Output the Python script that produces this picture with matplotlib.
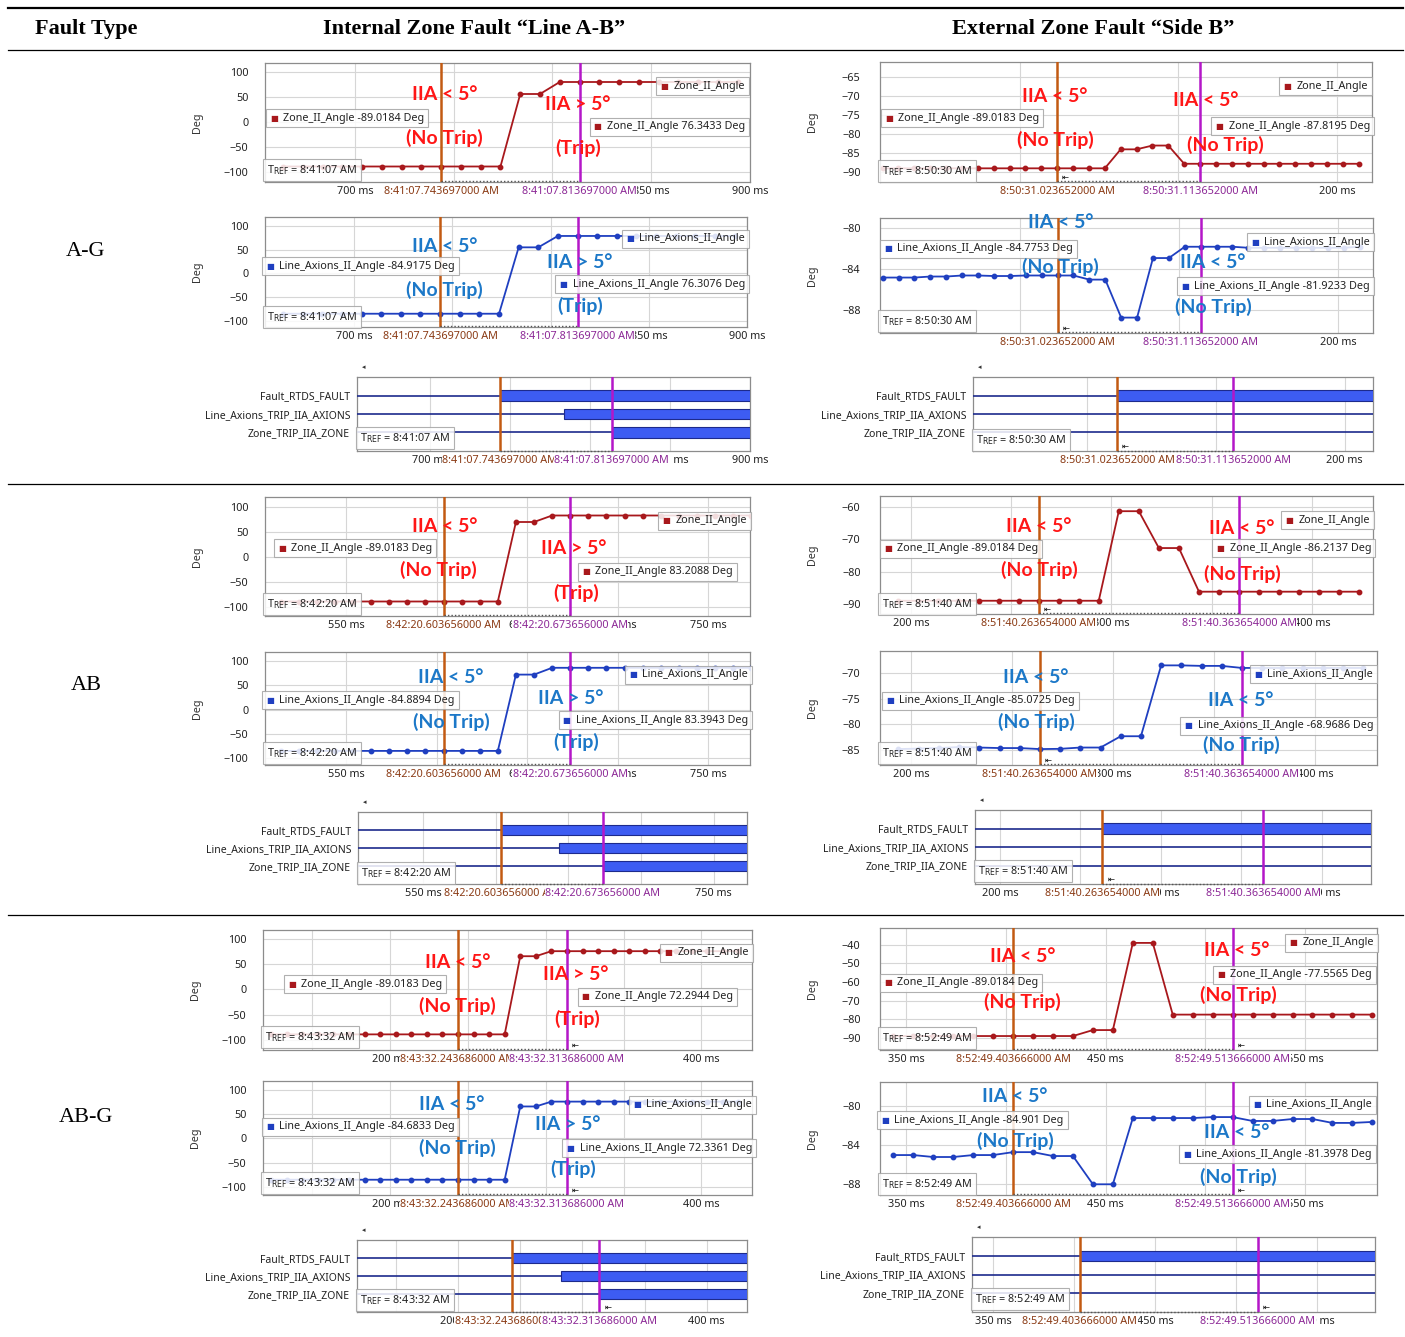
import numpy as np
import matplotlib
matplotlib.use("Agg")
import matplotlib.pyplot as plt
from matplotlib.lines import Line2D
from matplotlib.offsetbox import AnnotationBbox, HPacker, TextArea
from matplotlib.ticker import FuncFormatter, MultipleLocator

W, H = 1405, 1337
SANS = ["Noto Sans", "DejaVu Sans"]
SERIF = ["Liberation Serif", "DejaVu Serif"]
BOLD_SANS = ["Lato", "DejaVu Sans"]
plt.rcParams["font.family"] = SANS

# ---------------- data ----------------
FAULT_TYPES = ["A-G", "AB", "AB-G"]
SIGNALS = ["Fault_RTDS_FAULT", "Line_Axions_TRIP_IIA_AXIONS", "Zone_TRIP_IIA_ZONE"]
SAMPLE_MS = 10

# internal zone fault "Line A-B", A-G
AG_INT_START = 663.697
AG_INT_ZONE = [-89, -89, -89, -89, -89, -89, -89, -89, -89, -89, -89, -89,
               56, 56, 80, 80, 80, 80, 80, 80, 80, 80, 80, 80]
AG_INT_AXIONS = [-85, -85, -85, -85, -85, -85, -85, -85, -85, -85, -85, -85,
                 55, 55, 79, 79, 79, 79, 79, 79, 79, 79, 79, 79]
AG_INT_CURSORS = [743.697, 813.697]
AG_INT_EDGES = [743.697, 783.5, 813.697]
AG_INT_READ_ZONE = ["-89.0184", "76.3433"]
AG_INT_READ_AXIONS = ["-84.9175", "76.3076"]
AG_INT_CLOCK = "8:41:07"
AG_INT_TREF = "8:41:07 AM"

# external zone fault "Side B", A-G
AG_EXT_START = -86.348
AG_EXT_ZONE = [-89.0, -89.0, -89.0, -89.0, -89.0, -89.0, -89.0, -89.0, -89.0, -89.0,
               -89.0, -89.0, -89.0, -89.0, -89.0, -84.0, -84.0, -83.0, -83.0, -87.8,
               -87.8, -87.8, -87.8, -87.8, -87.8, -87.8, -87.8, -87.8, -87.8, -87.8, -87.8]
AG_EXT_AXIONS = [-84.8, -84.8, -84.8, -84.7, -84.7, -84.6, -84.6, -84.65, -84.65, -84.6,
                 -84.6, -84.6, -84.6, -85.0, -85.0, -88.7, -88.7, -82.9, -82.9, -81.8,
                 -81.8, -81.8, -81.8, -81.9, -81.9, -81.9, -81.9, -81.9, -81.9, -81.9, -81.8]
AG_EXT_CURSORS = [23.652, 113.652]
AG_EXT_EDGES = [23.652, None, None]
AG_EXT_READ_ZONE = ["-89.0183", "-87.8195"]
AG_EXT_READ_AXIONS = ["-84.7753", "-81.9233"]
AG_EXT_CLOCK = "8:50:31"
AG_EXT_TREF = "8:50:30 AM"

# internal, AB
AB_INT_START = 513.656
AB_INT_ZONE = [-89, -89, -89, -89, -89, -89, -89, -89, -89, -89, -89, -89, -89,
               70, 70, 83, 83, 83, 83, 83, 83, 83, 83, 83, 83, 83, 83]
AB_INT_AXIONS = [-85, -85, -85, -85, -85, -85, -85, -85, -85, -85, -85, -85, -85,
                 72, 72, 86, 86, 86, 86, 86, 86, 86, 86, 86, 86, 86, 86]
AB_INT_CURSORS = [603.656, 673.656]
AB_INT_EDGES = [603.656, 643.5, 673.656]
AB_INT_READ_ZONE = ["-89.0183", "83.2088"]
AB_INT_READ_AXIONS = ["-84.8894", "83.3943"]
AB_INT_CLOCK = "8:42:20"
AB_INT_TREF = "8:42:20 AM"

# external, AB
AB_EXT_START = 193.654
AB_EXT_ZONE = [-89, -89, -89, -89, -89, -89, -89, -89, -89, -89, -89,
               -61.3, -61.3, -72.7, -72.7, -86.2, -86.2, -86.2, -86.2, -86.2,
               -86.2, -86.2, -86.2, -86.2]
AB_EXT_AXIONS = [-84.8, -84.7, -84.6, -84.4, -84.5, -84.6, -84.6, -84.8, -84.75, -84.5,
                 -84.5, -82.3, -82.3, -68.5, -68.5, -68.6, -68.6, -69.0, -69.0, -69.0,
                 -69.0, -69.0, -69.0, -69.0]
AB_EXT_CURSORS = [263.654, 363.654]
AB_EXT_EDGES = [263.654, None, None]
AB_EXT_READ_ZONE = ["-89.0184", "-86.2137"]
AB_EXT_READ_AXIONS = ["-85.0725", "-68.9686"]
AB_EXT_CLOCK = "8:51:40"
AB_EXT_TREF = "8:51:40 AM"

# internal, AB-G
ABG_INT_START = 123.686
ABG_INT_ZONE = [-89, -89, -89, -89, -89, -89, -89, -89, -89, -89, -89, -89, -89, -89, -89, -89,
                66, 66, 76, 76, 76, 76, 76, 76, 76, 76, 76, 76, 76, 76, 76]
ABG_INT_AXIONS = [-85, -85, -85, -85, -85, -85, -85, -85, -85, -85, -85, -85, -85, -85, -85, -85,
                  66, 66, 76, 76, 76, 76, 76, 76, 76, 76, 76, 76, 76, 76, 76]
ABG_INT_CURSORS = [243.686, 313.686]
ABG_INT_EDGES = [243.686, 283.0, 313.686]
ABG_INT_READ_ZONE = ["-89.0183", "72.2944"]
ABG_INT_READ_AXIONS = ["-84.6833", "72.3361"]
ABG_INT_CLOCK = "8:43:32"
ABG_INT_TREF = "8:43:32 AM"

# external, AB-G
ABG_EXT_START = 343.666
ABG_EXT_ZONE = [-89, -89, -89, -89, -89, -89, -89, -89, -89, -89,
                -85.8, -85.8, -39, -39, -77.5, -77.5, -77.5, -77.5, -77.5, -77.5,
                -77.5, -77.5, -77.5, -77.5, -77.5]
ABG_EXT_AXIONS = [-85.0, -85.0, -85.2, -85.2, -85.0, -85.0, -84.7, -84.7, -85.1, -85.1,
                  -88.0, -88.0, -81.2, -81.2, -81.2, -81.2, -81.1, -81.1, -81.5, -81.5,
                  -81.3, -81.3, -81.7, -81.7, -81.6]
ABG_EXT_CURSORS = [403.666, 513.666]
ABG_EXT_EDGES = [403.666, None, None]
ABG_EXT_READ_ZONE = ["-89.0184", "-77.5565"]
ABG_EXT_READ_AXIONS = ["-84.901", "-81.3978"]
ABG_EXT_CLOCK = "8:52:49"
ABG_EXT_TREF = "8:52:49 AM"

CASES = [
    dict(start=AG_INT_START, zone=AG_INT_ZONE, axions=AG_INT_AXIONS, cursors=AG_INT_CURSORS,
         edges=AG_INT_EDGES, read_zone=AG_INT_READ_ZONE, read_axions=AG_INT_READ_AXIONS,
         clock=AG_INT_CLOCK, tref=AG_INT_TREF, trip=True),
    dict(start=AG_EXT_START, zone=AG_EXT_ZONE, axions=AG_EXT_AXIONS, cursors=AG_EXT_CURSORS,
         edges=AG_EXT_EDGES, read_zone=AG_EXT_READ_ZONE, read_axions=AG_EXT_READ_AXIONS,
         clock=AG_EXT_CLOCK, tref=AG_EXT_TREF, trip=False),
    dict(start=AB_INT_START, zone=AB_INT_ZONE, axions=AB_INT_AXIONS, cursors=AB_INT_CURSORS,
         edges=AB_INT_EDGES, read_zone=AB_INT_READ_ZONE, read_axions=AB_INT_READ_AXIONS,
         clock=AB_INT_CLOCK, tref=AB_INT_TREF, trip=True),
    dict(start=AB_EXT_START, zone=AB_EXT_ZONE, axions=AB_EXT_AXIONS, cursors=AB_EXT_CURSORS,
         edges=AB_EXT_EDGES, read_zone=AB_EXT_READ_ZONE, read_axions=AB_EXT_READ_AXIONS,
         clock=AB_EXT_CLOCK, tref=AB_EXT_TREF, trip=False),
    dict(start=ABG_INT_START, zone=ABG_INT_ZONE, axions=ABG_INT_AXIONS, cursors=ABG_INT_CURSORS,
         edges=ABG_INT_EDGES, read_zone=ABG_INT_READ_ZONE, read_axions=ABG_INT_READ_AXIONS,
         clock=ABG_INT_CLOCK, tref=ABG_INT_TREF, trip=True),
    dict(start=ABG_EXT_START, zone=ABG_EXT_ZONE, axions=ABG_EXT_AXIONS, cursors=ABG_EXT_CURSORS,
         edges=ABG_EXT_EDGES, read_zone=ABG_EXT_READ_ZONE, read_axions=ABG_EXT_READ_AXIONS,
         clock=ABG_EXT_CLOCK, tref=ABG_EXT_TREF, trip=False),
]

# ---------------- layout (pixels, origin top-left) ----------------
LAYOUT = [
    dict(xlim=(654.5, 900), step=50, grid=50, flag=None,
         zone=dict(rect=(265, 63, 750, 182), ylim=(-120, 118), yt=[-100, -50, 0, 50, 100],
                   ann=[(445, 95), (444, 138), (578, 105), (578, 148)],
                   lbox=(270, 118), rbox=(745, 127), sbox=(745, 86), tref=170),
         axions=dict(rect=(265, 217, 747, 327), ylim=(-113, 119), yt=[-100, -50, 0, 50, 100],
                     ann=[(445, 246), (444, 290), (580, 262), (580, 306)],
                     lbox=(266, 266), rbox=(745, 284), sbox=(745, 239), tref=317),
         dig=dict(rect=(357, 377, 750, 451), tref=438)),
    dict(xlim=(-88, 222), step=100, grid=100, flag=0,
         zone=dict(rect=(880, 62, 1372, 182), ylim=(-92.6, -61), yt=[-90, -85, -80, -75, -70, -65],
                   ann=[(1055, 96), (1055, 140), (1206, 101), (1225, 145)],
                   lbox=(885, 118), rbox=(1370, 126), sbox=(1368, 86), tref=171),
         axions=dict(rect=(880, 218, 1373, 333), ylim=(-90.2, -79), yt=[-88, -84, -80],
                     ann=[(1061, 223), (1060, 267), (1213, 262), (1213, 307)],
                     lbox=(884, 249), rbox=(1370, 286), sbox=(1370, 242), tref=321),
         dig=dict(rect=(973, 377, 1373, 451), tref=440)),
    dict(xlim=(505, 773), step=50, grid=50, flag=None,
         zone=dict(rect=(265, 497, 750, 616), ylim=(-118, 120), yt=[-100, -50, 0, 50, 100],
                   ann=[(445, 526), (438, 570), (574, 549), (576, 593)],
                   lbox=(278, 548), rbox=(733, 572), sbox=(747, 521), tref=604),
         axions=dict(rect=(265, 652, 750, 765), ylim=(-114, 118.5), yt=[-100, -50, 0, 50, 100],
                     ann=[(451, 678), (451, 722), (571, 698), (576, 742)],
                     lbox=(266, 700), rbox=(748, 720), sbox=(748, 675), tref=753),
         dig=dict(rect=(358, 812, 747, 884), tref=873)),
    dict(xlim=(184.5, 430.5), step=50, grid=50, flag=0,
         zone=dict(rect=(880, 496, 1373, 614), ylim=(-93.1, -56.6), yt=[-90, -80, -70, -60],
                   ann=[(1039, 526), (1039, 570), (1242, 529), (1242, 574)],
                   lbox=(884, 549), rbox=(1371, 548), sbox=(1370, 520), tref=604),
         axions=dict(rect=(880, 651, 1377, 765), ylim=(-87.9, -65.7), yt=[-85, -80, -75, -70],
                     ann=[(1036, 678), (1036, 722), (1241, 701), (1241, 745)],
                     lbox=(886, 701), rbox=(1373, 726), sbox=(1373, 674), tref=753),
         dig=dict(rect=(975, 810, 1371, 884), tref=871)),
    dict(xlim=(118.5, 432.5), step=100, grid=50, flag=1,
         zone=dict(rect=(263, 930, 752, 1050), ylim=(-120, 118), yt=[-100, -50, 0, 50, 100],
                   ann=[(458, 962), (457, 1006), (576, 975), (577, 1019)],
                   lbox=(288, 984), rbox=(733, 997), sbox=(749, 953), tref=1037),
         axions=dict(rect=(263, 1081, 752, 1195), ylim=(-116.5, 118.5), yt=[-100, -50, 0, 50, 100],
                     ann=[(452, 1104), (457, 1148), (568, 1125), (573, 1169)],
                     lbox=(266, 1127), rbox=(752, 1148), sbox=(752, 1105), tref=1183),
         dig=dict(rect=(357, 1240, 747, 1312), tref=1300)),
    dict(xlim=(337, 586), step=50, grid=50, flag=1,
         zone=dict(rect=(880, 928, 1377, 1050), ylim=(-96.5, -31), yt=[-90, -80, -70, -60, -50, -40],
                   ann=[(1023, 957), (1022, 1002), (1237, 951), (1238, 995)],
                   lbox=(884, 983), rbox=(1372, 975), sbox=(1374, 943), tref=1038),
         axions=dict(rect=(880, 1082, 1377, 1195), ylim=(-89.1, -77.5), yt=[-88, -84, -80],
                     ann=[(1015, 1097), (1015, 1141), (1237, 1133), (1238, 1177)],
                     lbox=(881, 1120), rbox=(1372, 1154), sbox=(1372, 1105), tref=1184),
         dig=dict(rect=(972, 1237, 1375, 1312), tref=1299)),
]

RED = "#a8181c"
BLUE = "#1f3fc0"
ORANGE = "#c25a12"
PURPLE = "#b417c8"
ORANGE_TXT = "#8a3a14"
PURPLE_TXT = "#8c2896"
NAVY = "#1d2a8c"
BAR = "#3d5cf2"
GRID = "#d6d6d6"
ANN_RED = "#ff1616"
ANN_BLUE = "#1c78c8"
FS = 7.8

fig = plt.figure(figsize=(W / 100, H / 100), dpi=100)


def px_rect(r):
    x0, y0, x1, y1 = r
    return [x0 / W, 1 - y1 / H, (x1 - x0) / W, (y1 - y0) / H]


def fxy(x, y):
    return (x / W, 1 - y / H)


def boxed(x, y, children, align):
    pack = HPacker(children=children, align="center", pad=0, sep=4)
    ab = AnnotationBbox(pack, fxy(x, y), xycoords="figure fraction",
                        box_alignment=(align, 0.5), frameon=True, pad=0.28,
                        bboxprops=dict(fc="white", ec="#a3a3a3", lw=0.8, alpha=0.85),
                        zorder=6)
    fig.add_artist(ab)


def readout(x, y, label, color, align):
    mark = TextArea("\u25a0", textprops=dict(color=color, fontsize=6, family="DejaVu Sans"))
    txt = TextArea(label, textprops=dict(fontsize=FS, color="#222222"))
    boxed(x, y, [mark, txt], align)


def tref_box(x, y, tref):
    txt = TextArea(r"T$_{\rm REF}$ = " + tref, textprops=dict(fontsize=FS, color="#222222"))
    boxed(x, y, [txt], 0)


def common(ax, case, lay):
    ax.set_xlim(*lay["xlim"])
    ax.xaxis.set_major_locator(MultipleLocator(lay["step"]))
    ax.xaxis.set_minor_locator(MultipleLocator(lay["grid"]))
    ax.xaxis.set_major_formatter(FuncFormatter(lambda v, p: f"{v:.0f} ms"))
    ax.tick_params(which="both", length=0, labelsize=FS, colors="#222222")
    ax.tick_params(axis="x", pad=3.2)
    ax.grid(True, axis="x", which="both", color=GRID, lw=0.8)
    for s in ax.spines.values():
        s.set_color("#8c8c8c")
        s.set_linewidth(0.9)
    c0, c1 = case["cursors"]
    ax.axvline(c0, color=ORANGE, lw=1.8, zorder=4)
    ax.axvline(c1, color=PURPLE, lw=1.8, zorder=4)
    ax.plot([c0, c1], [0.006, 0.006], transform=ax.get_xaxis_transform(),
            ls=(0, (1, 1.5)), color="#555555", lw=1.0, clip_on=False, zorder=4)
    for t, col in ((c0, ORANGE_TXT), (c1, PURPLE_TXT)):
        ax.annotate(f"{case['clock']}.{round(t * 1e6):09d} AM", xy=(t, 0),
                    xycoords=("data", "axes fraction"), xytext=(0, -3.2),
                    textcoords="offset points", ha="center", va="top", fontsize=FS,
                    color=col, bbox=dict(fc="white", ec="none", pad=0.4),
                    annotation_clip=False, zorder=5)
    if lay["flag"] is not None:
        ax.annotate("\u21e4", xy=(case["cursors"][lay["flag"]], 0),
                    xycoords=("data", "axes fraction"), xytext=(6, 3.5),
                    textcoords="offset points", ha="center", va="center",
                    fontsize=6, family="DejaVu Sans", color="black", zorder=6)


def angle_panel(case, lay, kind):
    pl = lay[kind]
    ax = fig.add_axes(px_rect(pl["rect"]))
    vals = case[kind]
    t = case["start"] + SAMPLE_MS * np.arange(len(vals))
    color = RED if kind == "zone" else BLUE
    name = "Zone_II_Angle" if kind == "zone" else "Line_Axions_II_Angle"
    ax.plot(t, vals, color=color, lw=1.3, marker="o", ms=3.2, zorder=3)
    ax.set_ylim(*pl["ylim"])
    ax.set_yticks(pl["yt"])
    ax.grid(True, axis="y", color=GRID, lw=0.8)
    common(ax, case, lay)
    ext = pl["rect"][0] > 700
    ax.tick_params(axis="y", pad=14 if ext else 12)
    wpx = pl["rect"][2] - pl["rect"][0]
    ax.set_ylabel("Deg", fontsize=FS, color="#333333")
    ax.yaxis.set_label_coords(-62 / wpx, 0.5)

    read = case["read_" + kind]
    readout(*pl["lbox"], f"{name} {read[0]} Deg", color, 0)
    readout(*pl["rbox"], f"{name} {read[1]} Deg", color, 1)
    readout(*pl["sbox"], name, color, 1)
    tref_box(pl["rect"][0] + 2, pl["tref"], case["tref"])

    acol = ANN_RED if kind == "zone" else ANN_BLUE
    texts = ["IIA < 5\u00b0", "(No Trip)"]
    texts += ["IIA > 5\u00b0", "(Trip)"] if case["trip"] else ["IIA < 5\u00b0", "(No Trip)"]
    for (x, y), s in zip(pl["ann"], texts):
        fig.text(*fxy(x, y), s, ha="center", va="center", fontsize=14,
                 fontweight="bold", family=BOLD_SANS, color=acol, zorder=10)


def digital_panel(case, lay):
    pl = lay["dig"]
    ax = fig.add_axes(px_rect(pl["rect"]))
    x0, x1 = lay["xlim"]
    ax.set_ylim(0, 4)
    for i, t_on in enumerate(case["edges"]):
        y = 3 - i
        end = x1 if t_on is None else t_on
        ax.plot([x0, end], [y, y], color=NAVY, lw=1.2, zorder=3)
        if t_on is not None:
            ax.barh(y, x1 + 20 - t_on, left=t_on, height=0.55, color=BAR,
                    edgecolor=NAVY, lw=0.8, zorder=3)
    ax.set_yticks([3, 2, 1])
    ax.set_yticklabels(SIGNALS)
    common(ax, case, lay)
    ax.tick_params(axis="y", pad=5, labelsize=7.5)
    ax.set_xlim(x0, x1)
    tref_box(pl["rect"][0] + 3, pl["tref"], case["tref"])
    fig.text(*fxy(pl["rect"][0] + 7, pl["rect"][1] - 10), "\u25c2", fontsize=5,
             family="DejaVu Sans", color="#333333", ha="center", va="center")


for case, lay in zip(CASES, LAYOUT):
    angle_panel(case, lay, "zone")
    angle_panel(case, lay, "axions")
    digital_panel(case, lay)

# ---------------- table frame ----------------
for y, lw in ((8, 1.6), (50, 0.9), (484, 0.9), (915, 0.9)):
    fig.add_artist(Line2D([8 / W, 1403 / W], [1 - y / H] * 2, color="black", lw=lw))

fig.text(*fxy(86, 29), "Fault Type", ha="center", va="center", fontsize=16,
         fontweight="bold", family=SERIF)
fig.text(*fxy(474, 29), "Internal Zone Fault \u201cLine A-B\u201d", ha="center", va="center",
         fontsize=16, fontweight="bold", family=SERIF)
fig.text(*fxy(1093, 29), "External Zone Fault \u201cSide B\u201d", ha="center", va="center",
         fontsize=16, fontweight="bold", family=SERIF)
for label, y in zip(FAULT_TYPES, (252, 686, 1117)):
    fig.text(*fxy(86, y), label, ha="center", va="center", fontsize=16, family=SERIF)

fig.savefig("out.png", dpi=100)
